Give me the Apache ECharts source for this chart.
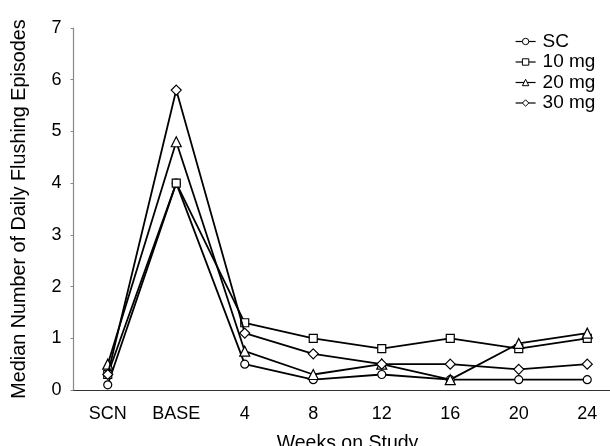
<!DOCTYPE html>
<html>
<head>
<meta charset="utf-8">
<script src="https://cdn.jsdelivr.net/npm/echarts@6/dist/echarts.min.js"></script>
<style>html,body{margin:0;padding:0;background:#fff;}#c{width:610px;height:446px;}</style>
</head>
<body>
<div id="c"></div>
<script>
const categories = ['SCN', 'BASE', '4', '8', '12', '16', '20', '24'];
const seriesNames = ['SC', '10 mg', '20 mg', '30 mg'];
const sc    = [0.1, 4.0, 0.5, 0.2, 0.3, 0.2, 0.2, 0.2];
const mg10  = [0.3, 4.0, 1.3, 1.0, 0.8, 1.0, 0.8, 1.0];
const mg20  = [0.5, 4.8, 0.75, 0.3, 0.5, 0.2, 0.9, 1.1];
const mg30  = [0.3, 5.8, 1.1, 0.7, 0.5, 0.5, 0.4, 0.5];
const yTicks = [0, 1, 2, 3, 4, 5, 6, 7];

const symbols = ['circle', 'rect', 'triangle', 'diamond'];
const sizes = [8, 8, 10, 10];
const values = [sc, mg10, mg20, mg30];
const FONT = '"Liberation Sans", Arial, Helvetica, sans-serif';

const chart = echarts.init(document.getElementById('c'), null, {renderer: 'canvas'});
chart.setOption({
  animation: false,
  backgroundColor: '#fff',
  textStyle: {fontFamily: FONT, color: '#000'},
  grid: {left: 73.5, top: 28, width: 548, bottom: 56, containLabel: false, outerBoundsMode: 'none'},
  legend: {
    orient: 'vertical',
    left: 510,
    top: 27,
    itemWidth: 20,
    itemHeight: 8,
    itemGap: 1.5,
    data: seriesNames,
    textStyle: {fontFamily: FONT, fontSize: 19, color: '#000', padding: [0, 0, 0, 2]},
    itemStyle: {color: '#fff', borderColor: '#000', borderWidth: 1},
    lineStyle: {color: '#000', width: 1.2}
  },
  xAxis: {
    type: 'category',
    data: categories,
    boundaryGap: true,
    name: 'Weeks on Study',
    nameLocation: 'middle',
    nameGap: 44,
    nameTextStyle: {fontFamily: FONT, fontSize: 19.5, color: '#000'},
    axisLine: {lineStyle: {color: '#333', width: 1.2}},
    axisTick: {inside: true, length: 5, alignWithLabel: true, lineStyle: {color: '#333'}},
    axisLabel: {fontFamily: FONT, fontSize: 18, color: '#000', margin: 15}
  },
  yAxis: {
    type: 'value',
    min: 0,
    max: yTicks[yTicks.length - 1],
    interval: 1,
    name: 'Median Number of Daily Flushing Episodes',
    nameLocation: 'middle',
    nameGap: 44,
    nameTextStyle: {fontFamily: FONT, fontSize: 19.8, color: '#000'},
    splitLine: {show: false},
    axisLine: {show: true, lineStyle: {color: '#888', width: 1.2}},
    axisTick: {show: true, inside: false, length: 3, lineStyle: {color: '#888'}},
    axisLabel: {fontFamily: FONT, fontSize: 18, color: '#000', margin: 12}
  },
  series: seriesNames.map((n, i) => ({
    name: n,
    type: 'line',
    data: values[i],
    symbol: symbols[i],
    symbolSize: sizes[i],
    showAllSymbol: true,
    lineStyle: {color: '#000', width: 1.8},
    itemStyle: {color: '#fff', borderColor: '#000', borderWidth: 1.2},
    z: 2 + i
  }))
});
</script>
</body>
</html>
